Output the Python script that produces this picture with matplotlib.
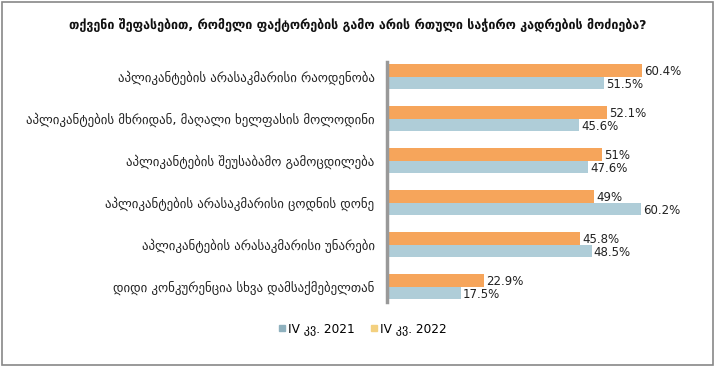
import matplotlib
matplotlib.use("Agg")
import matplotlib.pyplot as plt
from matplotlib.patches import Rectangle
from matplotlib.lines import Line2D

title = "თქვენი შეფასებით, რომელი ფაქტორების გამო არის რთული საჭირო კადრების მოძიება?"
categories = [
    "აპლიკანტების არასაკმარისი რაოდენობა",
    "აპლიკანტების მხრიდან, მაღალი ხელფასის მოლოდინი",
    "აპლიკანტების შეუსაბამო გამოცდილება",
    "აპლიკანტების არასაკმარისი ცოდნის დონე",
    "აპლიკანტების არასაკმარისი უნარები",
    "დიდი კონკურენცია სხვა დამსაქმებელთან",
]
vals_2022 = [60.4, 52.1, 51, 49, 45.8, 22.9]
vals_2021 = [51.5, 45.6, 47.6, 60.2, 48.5, 17.5]
labels_2022 = ["60.4%", "52.1%", "51%", "49%", "45.8%", "22.9%"]
labels_2021 = ["51.5%", "45.6%", "47.6%", "60.2%", "48.5%", "17.5%"]
series_names = ["IV კვ. 2021", "IV კვ. 2022"]

c22 = "#F6A55B"
c21 = "#AFCDD8"
leg21 = "#8FB1BE"
leg22 = "#F3D07F"

W, H = 715, 367
fig = plt.figure(figsize=(W / 100, H / 100), dpi=100)
plt.rcParams['font.family'] = ['DejaVu Sans']

ax_left = 387 / W
ax_right = 682 / W
ax_top = 1 - 62 / H
ax_bot = 1 - 302 / H
ax = fig.add_axes([ax_left, ax_bot, ax_right - ax_left, ax_top - ax_bot])

xmax = (682 - 387) / 4.22
ax.set_xlim(0, xmax)
band = 42.0
ax.set_ylim(5 + 15.5 / band, -14.5 / band)

h = 12.5 / band
ys = list(range(len(categories)))
ax.barh([y - h / 2 for y in ys], vals_2022, height=h, color=c22, zorder=2)
ax.barh([y + h / 2 for y in ys], vals_2021, height=h, color=c21, zorder=2)

for y, v, t in zip(ys, vals_2022, labels_2022):
    ax.text(v + 0.5, y - h / 2 + 0.02, t, va="center", ha="left", fontsize=8.5, color="#222222")
for y, v, t in zip(ys, vals_2021, labels_2021):
    ax.text(v + 0.5, y + h / 2 + 0.04, t, va="center", ha="left", fontsize=8.5, color="#222222")

ax.set_yticks(ys)
ax.set_yticklabels(categories, fontsize=9.3, color="#222222")
ax.tick_params(axis="y", length=0, pad=9)
ax.set_xticks([])
for s in ["top", "right", "bottom"]:
    ax.spines[s].set_visible(False)
ax.spines["left"].set_color("#999999")
ax.spines["left"].set_linewidth(2.5)

fig.text(0.5, 1 - 25 / H, title, ha="center", va="center", fontsize=9, fontweight="bold", color="#111111")

handles = [
    Line2D([], [], marker="s", linestyle="none", markersize=5, color=leg21),
    Line2D([], [], marker="s", linestyle="none", markersize=5, color=leg22),
]
fig.legend(handles, series_names, loc="center", bbox_to_anchor=(362 / W, 1 - 329 / H),
           ncol=2, frameon=False, fontsize=8.7, handletextpad=0.1, columnspacing=1.2,
           handlelength=0.8)

fig.patches.append(Rectangle((1.5 / W, 2 / H), (W - 4) / W, (H - 4) / H, transform=fig.transFigure,
                             fill=False, edgecolor="#888888", linewidth=1.2))

fig.savefig("out.png", dpi=100)
